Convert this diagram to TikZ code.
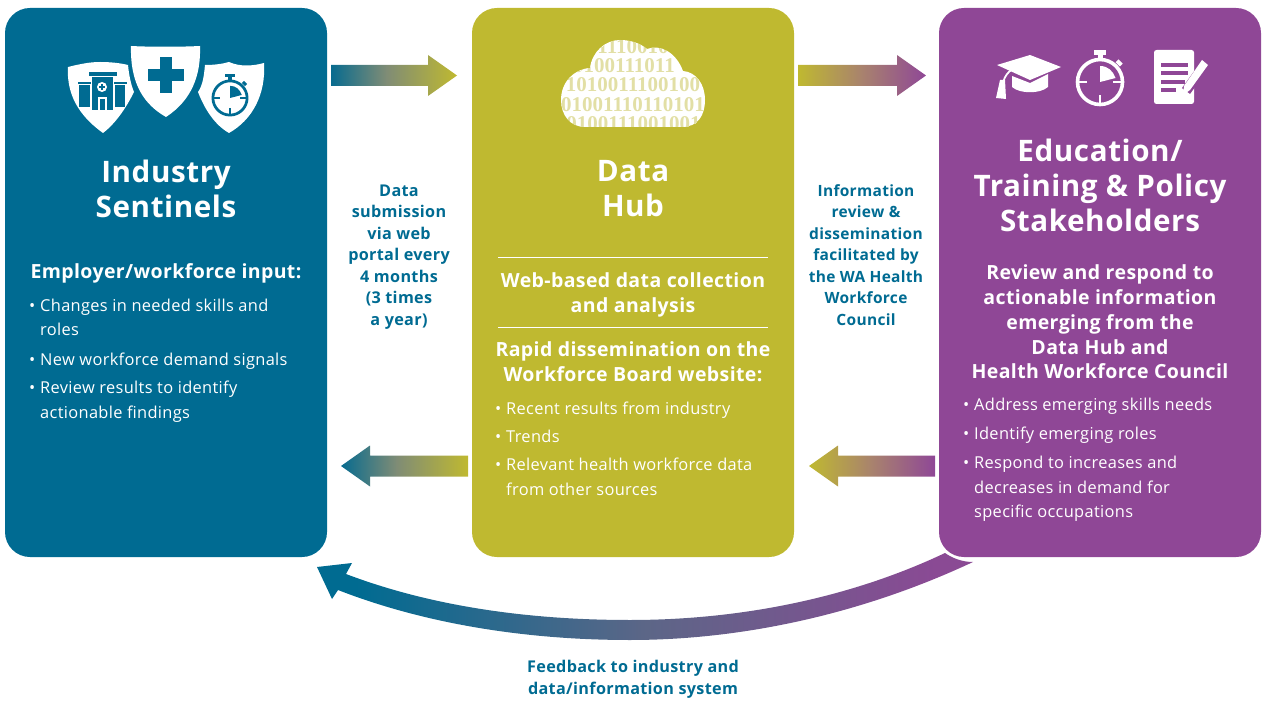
\documentclass[tikz,border=0pt]{standalone}
\usepackage{fontspec}
\setmainfont[LetterSpace=2]{Open Sans}
\newfontfamily\binaryfont{Liberation Serif}
\usetikzlibrary{calc}

\definecolor{sentinelblue}{RGB}{0,107,146}
\definecolor{huboliva}{RGB}{191,185,48}
\definecolor{councilpurple}{RGB}{143,71,150}
\definecolor{binarytint}{RGB}{226,223,165}

% colour fades, the width of an arrow runs from 25bp to 75bp
\pgfdeclarehorizontalshading{bluetoolive}{100bp}{rgb(0bp)=(0.03,0.42,0.56); rgb(25bp)=(0.03,0.42,0.56); rgb(47bp)=(0.5,0.55,0.46); rgb(75bp)=(0.75,0.725,0.19); rgb(100bp)=(0.75,0.725,0.19)}
\pgfdeclarehorizontalshading{olivetopurple}{100bp}{rgb(0bp)=(0.75,0.725,0.19); rgb(25bp)=(0.75,0.725,0.19); rgb(50bp)=(0.66,0.51,0.43); rgb(75bp)=(0.56,0.28,0.59); rgb(100bp)=(0.56,0.28,0.59)}
\pgfdeclarehorizontalshading{bluetopurple}{100bp}{rgb(0bp)=(0,0.42,0.57); rgb(28bp)=(0,0.42,0.57); rgb(50bp)=(0.36,0.4,0.53); rgb(72bp)=(0.54,0.29,0.58); rgb(100bp)=(0.56,0.28,0.59)}

\tikzset{
	panel/.style={rounded corners=25pt,minimum width=322pt,minimum height=549pt,inner sep=0pt},
	heading/.style={text=white,font=\fontsize{29.6}{35}\selectfont\bfseries,align=center,inner sep=0pt},
	subhead/.style={text=white,font=\fontsize{19.5}{24.7}\selectfont\bfseries,align=center,inner sep=0pt},
	itemtext/.style={text=white,font=\fontsize{16.4}{24.5}\selectfont,align=left,anchor=north west,inner sep=0pt},
	flowlabel/.style={text=sentinelblue,font=\fontsize{15.5}{21.5}\selectfont\bfseries,align=center,inner sep=0pt},
	widelabel/.style={flowlabel,font=\fontsize{16.2}{21.5}\selectfont\bfseries},
	binaryrow/.style={text=binarytint,font=\fontsize{21}{21}\binaryfont\bfseries,inner sep=0pt,text height=13pt,text depth=0pt},
}

% block arrow: from, to, shading
\newcommand{\flowarrow}[3]{
	\coordinate (neck) at ($(#2)!29pt!(#1)$);
	\shade[shading=#3] ($(#1)+(0,-10.5)$) -- ($(neck)+(0,-10.5)$) -- ($(neck)+(0,-20.5)$) -- (#2) -- ($(neck)+(0,20.5)$) -- ($(neck)+(0,10.5)$) -- ($(#1)+(0,10.5)$) -- cycle;
}

% stopwatch: x, y, scale, ring colour
\newcommand{\stopwatch}[4]{
	\begin{scope}[shift={(#1,#2)},scale=#3]
		\draw[#4,line width=#3*3.6pt] (0,0) circle[radius=22.5];
		\fill[#4] (-6,-32) rectangle (6,-27);
		\fill[#4] (-2.5,-27) rectangle (2.5,-23);
		\fill[#4,rotate=-45] (-3,-29) rectangle (3,-25);
		\fill[#4] (0,0) -- (0,-16) .. controls (8,-16) and (13,-11) .. (15.5,-4) -- cycle;
		\draw[#4,line width=#3*1.6pt] (-22,0) -- (-13,0);
		\draw[#4,line width=#3*1.6pt] (22,0) -- (13,0);
		\draw[#4,line width=#3*1.6pt] (0,22) -- (0,13);
	\end{scope}
}

\begin{document}
\begin{tikzpicture}[x=1pt,y=-1pt]
	\useasboundingbox (0,0) rectangle (1265,708);

	% Panels
	\node[panel,fill=sentinelblue] (sentinels) at (166,282.5) {};
	\node[panel,fill=huboliva] (hub) at (633,282.5) {};
	\node[panel,fill=councilpurple] (council) at (1100,282.5) {};

	% Arrows between the panels
	\coordinate (submitStart) at (331,75.5);
	\coordinate (submitEnd) at (457,75.5);
	\coordinate (reviewStart) at (798,75.5);
	\coordinate (reviewEnd) at (926,75.5);
	\coordinate (resultStart) at (468,466);
	\coordinate (resultEnd) at (341,466);
	\coordinate (respondStart) at (935,466);
	\coordinate (respondEnd) at (809,466);
	\flowarrow{submitStart}{submitEnd}{bluetoolive}
	\flowarrow{reviewStart}{reviewEnd}{olivetopurple}
	\flowarrow{resultStart}{resultEnd}{bluetoolive}
	\flowarrow{respondStart}{respondEnd}{olivetopurple}

	% Feedback arrow
	\shade[shading=bluetopurple] (973,562) .. controls (860,615) and (740,640) .. (630,640) .. controls (520,640) and (420,622) .. (338,590) -- (332,599) -- (317,567) -- (352,563) -- (346,574) .. controls (425,604) and (520,620) .. (630,620) .. controls (740,620) and (850,598) .. (945,553) .. controls (952,558) and (962,562) .. (973,562) -- cycle;

	% Shields
	\fill[white] (68,67) .. controls (80,64) and (90,62) .. (100,62) .. controls (110,62) and (120,63) .. (128,65) .. controls (129,75) and (131,85) .. (134,92) .. controls (126,108) and (116,123) .. (103,133) .. controls (85,120) and (66,100) .. (68,67) -- cycle;
	\fill[white] (131,46) .. controls (150,47) and (180,47) .. (200,46) .. controls (201,75) and (192,100) .. (166,117) .. controls (145,105) and (130,85) .. (131,46) -- cycle;
	\fill[white] (198,92) .. controls (203,85) and (204,75) .. (205,65) .. controls (214,65) and (222,64) .. (229,62) .. controls (240,67) and (253,66) .. (264,63) .. controls (266,95) and (252,120) .. (229,133) .. controls (215,125) and (205,110) .. (198,92) -- cycle;

	% Hospital
	\fill[sentinelblue] (89,72) rectangle (117,76);
	\fill[sentinelblue] (92,77) rectangle (113,110);
	\fill[sentinelblue] (78,82) rectangle (91,84);
	\fill[sentinelblue] (114,82) rectangle (127,84);
	\fill[sentinelblue] (79,85) rectangle (90,107);
	\fill[sentinelblue] (115,85) rectangle (125,107);
	\fill[white] (102,87) circle[radius=5];
	\draw[sentinelblue,line width=1.3pt] (99,87) -- (105,87);
	\draw[sentinelblue,line width=1.3pt] (102,84) -- (102,90);
	\fill[white] (98,97) rectangle (107,110);
	\fill[sentinelblue] (100,99) rectangle (105,110);

	% Cross
	\fill[sentinelblue] (160,57) rectangle (172,93);
	\fill[sentinelblue] (148,69) rectangle (184,81);

	\stopwatch{230}{98}{0.76}{sentinelblue}

	% Cloud
	\begin{scope}
		\clip (585,127) .. controls (570,127) and (561,115) .. (561,100) .. controls (561,82) and (574,69) .. (590,68) .. controls (592,52) and (605,40) .. (620,40) .. controls (630,40) and (640,43) .. (647,49) .. controls (660,44) and (676,52) .. (683,71) .. controls (696,72) and (705,84) .. (705,100) .. controls (705,115) and (698,127) .. (682,127) -- cycle;
		\fill[white] (555,35) rectangle (710,130);
		\node[binaryrow] (rowa) at (633,47) {1110010};
		\node[binaryrow] (rowb) at (624,66) {0100111011};
		\node[binaryrow] (rowc) at (633,85) {1010011100100};
		\node[binaryrow] (rowd) at (633,105) {01001110110101};
		\node[binaryrow] (rowe) at (633,124) {101001110010011};
	\end{scope}

	% Mortarboard
	\fill[white] (997,65) -- (1030,55) -- (1061,67) -- (1030,80) -- cycle;
	\fill[white] (1012,76) -- (1030,83) -- (1048,74) -- (1048,87) .. controls (1040,94) and (1020,94) .. (1012,87) -- cycle;
	\draw[white,line width=1.8pt] (1025,64) .. controls (1012,68) and (1004,72) .. (1002,88);
	\fill[white] (1000,80) -- (1005,80) -- (1006,99) -- (996,98) -- cycle;

	\stopwatch{1100}{82}{1}{white}

	% Notepad
	\fill[white,rounded corners=2.5pt] (1154,50) rectangle (1194,104);
	\fill[councilpurple] (1161,63) rectangle (1188,67);
	\fill[councilpurple] (1161,71) rectangle (1188,75);
	\fill[councilpurple] (1161,80) rectangle (1185,84);
	\fill[councilpurple] (1161,88) rectangle (1176,92);
	\draw[councilpurple,line width=10pt] (1204,66) -- (1186,91);
	\fill[white] (1202,60) -- (1208,65) -- (1190,90) -- (1183,95) -- (1184,86) -- cycle;

	% Panel titles
	\node[heading] (sentinelstitle) at (166,188.5) {Industry\\Sentinels};
	\node[heading] (hubtitle) at (633,188.5) {Data\\Hub};
	\node[heading] (counciltitle) at (1100,185) {Education/\\Training \& Policy\\Stakeholders};

	% Left panel
	\node[subhead] (inputhead) at (166,273.5) {Employer/workforce input:};
	\node[itemtext] (skillsitem) at (40,298.5) {\llap{•\hspace{5pt}}Changes in needed skills and\\roles};
	\node[itemtext] (demanditem) at (40,353) {\llap{•\hspace{5pt}}New workforce demand signals};
	\node[itemtext] (findingsitem) at (40,381) {\llap{•\hspace{5pt}}Review results to identify\\actionable findings};

	% Middle panel
	\draw[white] (498,257) -- (768,257);
	\draw[white] (498,327) -- (768,327);
	\node[subhead] (collecthead) at (633,295) {Web-based data collection\\and analysis};
	\node[subhead] (rapidhead) at (633,362) {Rapid dissemination on the\\Workforce Board website:};
	\node[itemtext] (recentitem) at (506,402) {\llap{•\hspace{5pt}}Recent results from industry};
	\node[itemtext] (trendsitem) at (506,430) {\llap{•\hspace{5pt}}Trends};
	\node[itemtext] (relevantitem) at (506,458) {\llap{•\hspace{5pt}}Relevant health workforce data\\from other sources};

	% Right panel
	\node[subhead] (respondhead) at (1100,322) {Review and respond to\\actionable information\\emerging from the\\Data Hub and\\Health Workforce Council};
	\node[itemtext] (needsitem) at (974,398) {\llap{•\hspace{5pt}}Address emerging skills needs};
	\node[itemtext] (rolesitem) at (974,427) {\llap{•\hspace{5pt}}Identify emerging roles};
	\node[itemtext] (increaseitem) at (974,456) {\llap{•\hspace{5pt}}Respond to increases and\\decreases in demand for\\specific occupations};

	% Arrow labels
	\node[widelabel] (submitlabel) at (399,257) {Data\\submission\\via web\\portal every\\4 months\\(3 times\\a year)};
	\node[flowlabel] (reviewlabel) at (866,255) {Information\\review \&\\dissemination\\facilitated by\\the WA Health\\Workforce\\Council};
	\node[widelabel] (feedbacklabel) at (633,679.5) {Feedback to industry and\\data/information system};

\end{tikzpicture}
\end{document}
